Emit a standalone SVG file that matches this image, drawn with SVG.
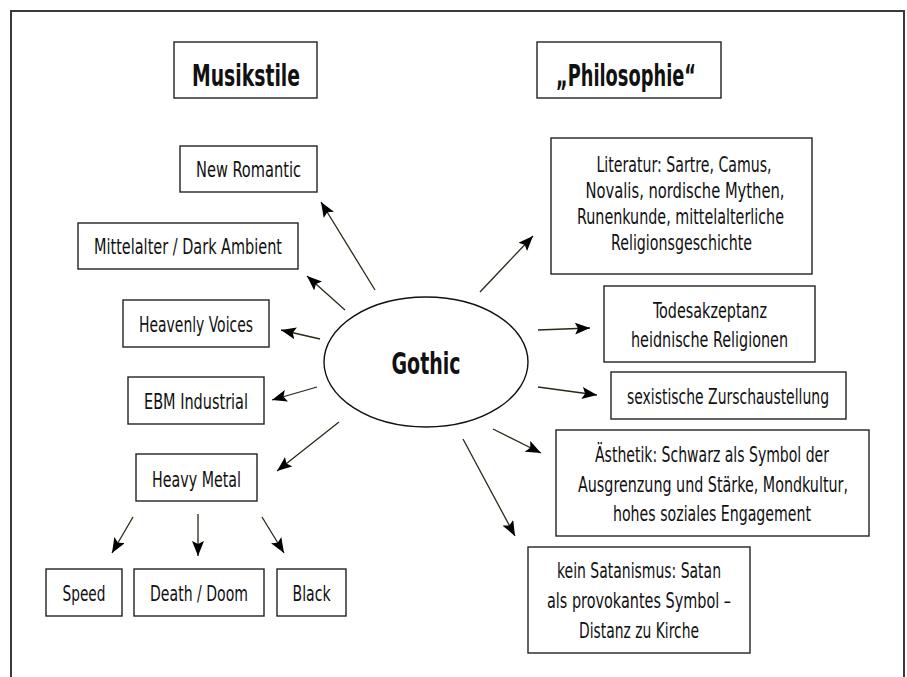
<svg xmlns="http://www.w3.org/2000/svg" width="907" height="677" viewBox="0 0 907 677">
<style>
.box{fill:#fff;stroke:#222;stroke-width:1.4}
.t{font-family:"Liberation Sans Narrow","DejaVu Sans Condensed","Liberation Sans",sans-serif;font-size:22px;fill:#111;text-anchor:middle}
.h{font-family:"Liberation Sans Narrow","DejaVu Sans Condensed","Liberation Sans",sans-serif;font-size:30px;font-weight:bold;fill:#111;text-anchor:middle}
.c{stroke:#2a2816;stroke-width:1.3;fill:none;marker-end:url(#ah)}
</style>
<defs>
<marker id="ah" markerUnits="userSpaceOnUse" markerWidth="16" markerHeight="12" refX="15" refY="6" orient="auto">
<path d="M0,0 L15,6 L0,12 L3,6 z" fill="#000"/>
</marker>
</defs>
<rect width="907" height="677" fill="#fff"/>
<path d="M11,677 V11 H904 V677" fill="none" stroke="#3a3a3a" stroke-width="2"/>

<g id="musikstile"><rect class="box" x="174" y="42" width="143" height="56"/><text class="h" transform="translate(246,86) scale(0.75,1)" textLength="144" lengthAdjust="spacingAndGlyphs">Musikstile</text></g>
<g id="philosophie"><rect class="box" x="537" y="42" width="184" height="56"/><text class="h" transform="translate(626,86) scale(0.75,1)" textLength="186.7" lengthAdjust="spacingAndGlyphs">„Philosophie“</text></g>

<g id="gothic"><ellipse cx="426" cy="362" rx="102" ry="65" fill="#fff" stroke="#111" stroke-width="1.4"/><text class="h" transform="translate(426,374) scale(0.75,1)" textLength="92" lengthAdjust="spacingAndGlyphs">Gothic</text></g>

<g id="new-romantic"><rect class="box" x="180" y="146" width="137" height="46"/><text class="t" transform="translate(248.5,177) scale(0.7,1)" textLength="150" lengthAdjust="spacingAndGlyphs">New Romantic</text></g>
<g id="mittelalter"><rect class="box" x="78" y="223" width="220" height="46"/><text class="t" transform="translate(188,254) scale(0.7,1)" textLength="268.6" lengthAdjust="spacingAndGlyphs">Mittelalter / Dark Ambient</text></g>
<g id="heavenly-voices"><rect class="box" x="123" y="300" width="146" height="47"/><text class="t" transform="translate(196,332) scale(0.7,1)" textLength="162.9" lengthAdjust="spacingAndGlyphs">Heavenly Voices</text></g>
<g id="ebm-industrial"><rect class="box" x="128" y="377" width="136" height="47"/><text class="t" transform="translate(196,409) scale(0.7,1)" textLength="148.6" lengthAdjust="spacingAndGlyphs">EBM Industrial</text></g>
<g id="heavy-metal"><rect class="box" x="136" y="454" width="121" height="47"/><text class="t" transform="translate(196.5,487) scale(0.7,1)" textLength="127.1" lengthAdjust="spacingAndGlyphs">Heavy Metal</text></g>
<g id="speed"><rect class="box" x="46" y="569" width="76" height="47"/><text class="t" transform="translate(84,601) scale(0.7,1)" textLength="61.4" lengthAdjust="spacingAndGlyphs">Speed</text></g>
<g id="death-doom"><rect class="box" x="134" y="569" width="130" height="47"/><text class="t" transform="translate(199,601) scale(0.7,1)" textLength="140" lengthAdjust="spacingAndGlyphs">Death / Doom</text></g>
<g id="black"><rect class="box" x="277" y="569" width="69" height="47"/><text class="t" transform="translate(311.5,601) scale(0.7,1)" textLength="54.3" lengthAdjust="spacingAndGlyphs">Black</text></g>

<g id="literatur"><rect class="box" x="551" y="138" width="261" height="136"/>
<text class="t" transform="translate(684,172) scale(0.7,1)" textLength="250" lengthAdjust="spacingAndGlyphs">Literatur: Sartre, Camus,</text>
<text class="t" transform="translate(685,198) scale(0.7,1)" textLength="284.3" lengthAdjust="spacingAndGlyphs">Novalis, nordische Mythen,</text>
<text class="t" transform="translate(680.5,224) scale(0.7,1)" textLength="295.7" lengthAdjust="spacingAndGlyphs">Runenkunde, mittelalterliche</text>
<text class="t" transform="translate(681.5,250) scale(0.7,1)" textLength="201.4" lengthAdjust="spacingAndGlyphs">Religionsgeschichte</text></g>
<g id="todesakzeptanz"><rect class="box" x="604" y="286" width="211" height="76"/>
<text class="t" transform="translate(710,318) scale(0.7,1)" textLength="162.9" lengthAdjust="spacingAndGlyphs">Todesakzeptanz</text>
<text class="t" transform="translate(709.5,347) scale(0.7,1)" textLength="224.3" lengthAdjust="spacingAndGlyphs">heidnische Religionen</text></g>
<g id="sexistische"><rect class="box" x="611" y="372" width="235" height="47"/><text class="t" transform="translate(728,404) scale(0.7,1)" textLength="288.6" lengthAdjust="spacingAndGlyphs">sexistische Zurschaustellung</text></g>
<g id="aesthetik"><rect class="box" x="556" y="430" width="313" height="106"/>
<text class="t" transform="translate(712,462) scale(0.7,1)" textLength="334.3" lengthAdjust="spacingAndGlyphs">Ästhetik: Schwarz als Symbol der</text>
<text class="t" transform="translate(713,492) scale(0.7,1)" textLength="385.7" lengthAdjust="spacingAndGlyphs">Ausgrenzung und Stärke, Mondkultur,</text>
<text class="t" transform="translate(712,521) scale(0.7,1)" textLength="282.9" lengthAdjust="spacingAndGlyphs">hohes soziales Engagement</text></g>
<g id="satanismus"><rect class="box" x="528" y="547" width="222" height="106"/>
<text class="t" transform="translate(639,578) scale(0.7,1)" textLength="234.3" lengthAdjust="spacingAndGlyphs">kein Satanismus: Satan</text>
<text class="t" transform="translate(639,608) scale(0.7,1)" textLength="262.9" lengthAdjust="spacingAndGlyphs">als provokantes Symbol –</text>
<text class="t" transform="translate(639,638) scale(0.7,1)" textLength="171.4" lengthAdjust="spacingAndGlyphs">Distanz zu Kirche</text></g>

<g id="connectors">
<line class="c" x1="375" y1="290" x2="321" y2="202"/>
<line class="c" x1="345" y1="310" x2="307" y2="276"/>
<line class="c" x1="320" y1="339" x2="281" y2="330"/>
<line class="c" x1="317" y1="387" x2="272" y2="400"/>
<line class="c" x1="339" y1="422" x2="277" y2="471"/>
<line class="c" x1="133" y1="517" x2="112" y2="553"/>
<line class="c" x1="198" y1="514" x2="198" y2="556"/>
<line class="c" x1="262" y1="517" x2="284" y2="553"/>
<line class="c" x1="480" y1="292" x2="533" y2="236"/>
<line class="c" x1="538" y1="330" x2="590" y2="328"/>
<line class="c" x1="538" y1="387" x2="597" y2="395"/>
<line class="c" x1="493" y1="429" x2="541" y2="453"/>
<line class="c" x1="463" y1="439" x2="515" y2="536"/>
</g>
</svg>
